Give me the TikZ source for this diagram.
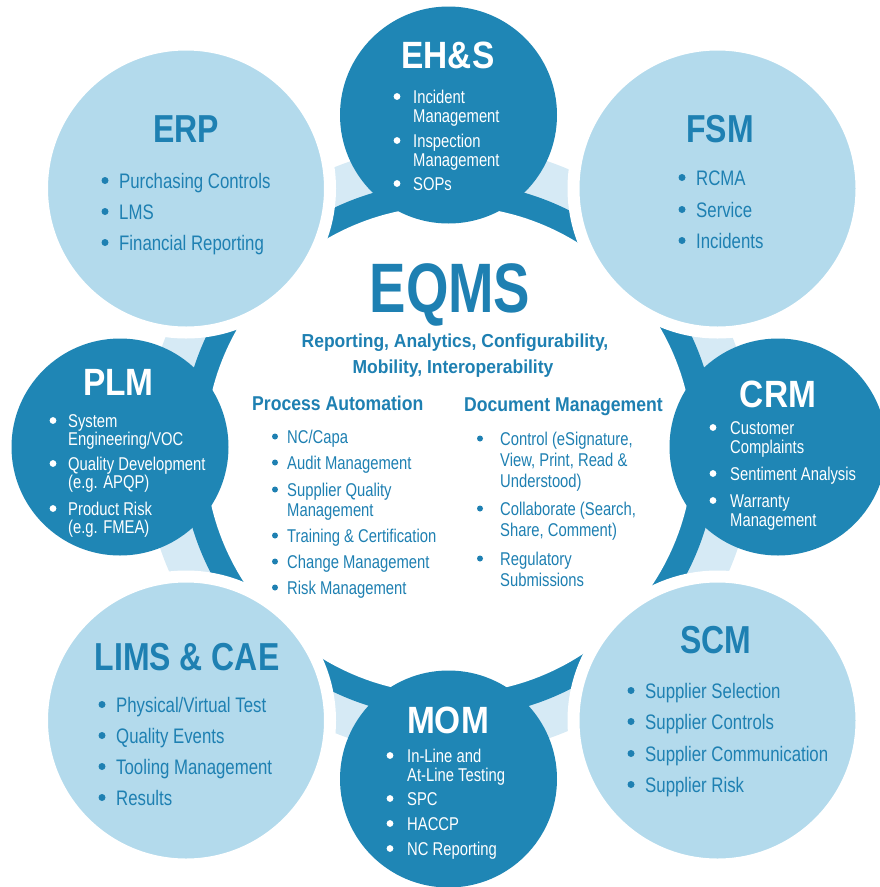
\documentclass[tikz,border=0pt]{standalone}
\usepackage{fontspec}
\setmainfont{Liberation Sans}
\newfontfamily\fR{Liberation Sans}[FakeStretch=0.80]
\newfontfamily\fB{Liberation Sans}[FakeStretch=0.88]
\newfontfamily\fS{Liberation Sans}[FakeStretch=0.93]
\newfontfamily\fT{Liberation Sans}[FakeStretch=0.82]
\newfontfamily\fE{Liberation Sans}[FakeStretch=0.78]
\definecolor{dk}{HTML}{1F86B5}
\definecolor{lt}{HTML}{B3DAEC}
\definecolor{pl}{HTML}{D6EAF5}
\definecolor{tx}{HTML}{1E80B2}
\begin{document}
\begin{tikzpicture}[x=1pt,y=-1pt,
 dkc/.style={circle,fill=dk,inner sep=0pt,minimum size=217pt},
 ltc/.style={circle,fill=lt,draw=white,line width=12pt,inner sep=0pt,minimum size=288pt},
 ttlL/.style={anchor=base,inner sep=0pt,text=tx,font=\fT\bfseries\fontsize{39}{39}\selectfont},
 ttlD/.style={anchor=base,inner sep=0pt,text=white,font=\fB\bfseries\fontsize{38}{38}\selectfont},
 txL/.style={anchor=base west,inner sep=0pt,text=tx,font=\fR\fontsize{21}{21}\selectfont},
 txD/.style={anchor=base west,inner sep=0pt,text=white,font=\fR\fontsize{18.5}{18.5}\selectfont},
 txC/.style={anchor=base west,inner sep=0pt,text=tx,font=\fR\fontsize{18.5}{18.5}\selectfont},
 hdC/.style={anchor=base west,inner sep=0pt,text=tx,font=\fB\bfseries\fontsize{20}{20}\selectfont},
 subC/.style={anchor=base,inner sep=0pt,text=tx,font=\fS\bfseries\fontsize{18.8}{18.8}\selectfont},
 dotL/.style={circle,fill=tx,inner sep=0pt,minimum size=7pt},
 dotD/.style={circle,fill=white,inner sep=0pt,minimum size=6.8pt},
 dotC/.style={circle,fill=tx,inner sep=0pt,minimum size=6pt},
]
\useasboundingbox (0,0) rectangle (879,887);
\fill[white] (0,0) rectangle (879,887);
% background rings
\fill[pl] (449,450) circle (305pt);
\fill[dk] (449,450) circle (268pt);
\fill[white] (449,450) circle (244pt);
% dark circles
\node[dkc] (ehs) at (448.5,115) {};
\node[dkc] (plm) at (120,447) {};
\node[dkc] (crm) at (778,447) {};
\node[dkc] (mom) at (448.5,779) {};
% light circles
\node[ltc] (erp) at (186,188.5) {};
\node[ltc] (fsm) at (717.5,188.5) {};
\node[ltc] (lims) at (186,720.5) {};
\node[ltc] (scm) at (717.5,720.5) {};

% ERP
\node[ttlL] (erpT) at (186,142) {ERP};
\node[dotL] (erpb1) at (105,180.5) {};
\node[txL] (erpt1) at (119,188) {Purchasing Controls};
\node[dotL] (erpb2) at (105,211.5) {};
\node[txL] (erpt2) at (119,219) {LMS};
\node[dotL] (erpb3) at (105,242.5) {};
\node[txL] (erpt3) at (119,250) {Financial Reporting};

% FSM
\node[ttlL] (fsmT) at (720,142) {FSM};
\node[dotL] (fsmb1) at (682,177.5) {};
\node[txL] (fsmt1) at (696,185) {RCMA};
\node[dotL] (fsmb2) at (682,209.5) {};
\node[txL] (fsmt2) at (696,217) {Service};
\node[dotL] (fsmb3) at (682,240.5) {};
\node[txL] (fsmt3) at (696,248) {Incidents};

% LIMS & CAE
\node[ttlL] (limsT) at (187,670) {LIMS \& CAE};
\node[dotL] (limsb1) at (102,704.5) {};
\node[txL] (limst1) at (116,712) {Physical/Virtual Test};
\node[dotL] (limsb2) at (102,735.5) {};
\node[txL] (limst2) at (116,743) {Quality Events};
\node[dotL] (limsb3) at (102,766.5) {};
\node[txL] (limst3) at (116,774) {Tooling Management};
\node[dotL] (limsb4) at (102,797.5) {};
\node[txL] (limst4) at (116,805) {Results};

% SCM
\node[ttlL] (scmT) at (716,653) {SCM};
\node[dotL] (scmb1) at (631,690.5) {};
\node[txL] (scmt1) at (645,698) {Supplier Selection};
\node[dotL] (scmb2) at (631,721.5) {};
\node[txL] (scmt2) at (645,729) {Supplier Controls};
\node[dotL] (scmb3) at (631,753.5) {};
\node[txL] (scmt3) at (645,761) {Supplier Communication};
\node[dotL] (scmb4) at (631,784.5) {};
\node[txL] (scmt4) at (645,792) {Supplier Risk};

% EH&S
\node[ttlD] (ehsT) at (448,68) {EH\&S};
\node[dotD] (ehsb1) at (397,96.5) {};
\node[txD] (ehst1) at (413,103) {Incident};
\node[txD] (ehst1b) at (413,122) {Management};
\node[dotD] (ehsb2) at (397,140.5) {};
\node[txD] (ehst2) at (413,147) {Inspection};
\node[txD] (ehst2b) at (413,166) {Management};
\node[dotD] (ehsb3) at (397,183.5) {};
\node[txD] (ehst3) at (413,190) {SOPs};

% PLM
\node[ttlD] (plmT) at (118.5,395) {PLM};
\node[dotD] (plmb1) at (53,420.5) {};
\node[txD] (plmt1) at (68,427) {System};
\node[txD] (plmt1b) at (68,445) {Engineering/VOC};
\node[dotD] (plmb2) at (53,463.5) {};
\node[txD] (plmt2) at (68,470) {Quality Development};
\node[txD] (plmt2b) at (68,488) {(e.g. APQP)};
\node[dotD] (plmb3) at (53,508.5) {};
\node[txD] (plmt3) at (68,515) {Product Risk};
\node[txD] (plmt3b) at (68,533) {(e.g. FMEA)};

% CRM
\node[ttlD] (crmT) at (778,407) {CRM};
\node[dotD] (crmb1) at (713,427.5) {};
\node[txD] (crmt1) at (730,434) {Customer};
\node[txD] (crmt1b) at (730,453) {Complaints};
\node[dotD] (crmb2) at (713,473.5) {};
\node[txD] (crmt2) at (730,480) {Sentiment Analysis};
\node[dotD] (crmb3) at (713,500.5) {};
\node[txD] (crmt3) at (730,507) {Warranty};
\node[txD] (crmt3b) at (730,526) {Management};

% MOM
\node[ttlD] (momT) at (448,733) {MOM};
\node[dotD] (momb1) at (390,755.5) {};
\node[txD] (momt1) at (407,762) {In-Line and};
\node[txD] (momt1b) at (407,781) {At-Line Testing};
\node[dotD] (momb2) at (390,798.5) {};
\node[txD] (momt2) at (407,805) {SPC};
\node[dotD] (momb3) at (390,823.5) {};
\node[txD] (momt3) at (407,830) {HACCP};
\node[dotD] (momb4) at (390,848.5) {};
\node[txD] (momt4) at (407,855) {NC Reporting};

% centre
\node[anchor=base,inner sep=0pt,text=tx,font=\fE\bfseries\fontsize{70}{70}\selectfont] (eqms) at (450,312) {EQMS};
\node[subC] (sub1) at (455,347) {Reporting, Analytics, Configurability,};
\node[subC] (sub2) at (453,373) {Mobility, Interoperability};
\node[hdC] (pa) at (252,410) {Process Automation};
\node[hdC] (dm) at (464,411) {Document Management};

\node[dotC] (pab1) at (275,436.5) {};
\node[txC] (pat1) at (287,443) {NC/Capa};
\node[dotC] (pab2) at (275,462.5) {};
\node[txC] (pat2) at (287,469) {Audit Management};
\node[dotC] (pab3) at (275,489.5) {};
\node[txC] (pat3) at (287,496) {Supplier Quality};
\node[txC] (pat3b) at (287,516) {Management};
\node[dotC] (pab4) at (275,535.5) {};
\node[txC] (pat4) at (287,542) {Training \& Certification};
\node[dotC] (pab5) at (275,561.5) {};
\node[txC] (pat5) at (287,568) {Change Management};
\node[dotC] (pab6) at (275,587.5) {};
\node[txC] (pat6) at (287,594) {Risk Management};

\node[dotC] (dmb1) at (480,438.5) {};
\node[txC] (dmt1) at (500,445) {Control (eSignature,};
\node[txC] (dmt1b) at (500,466) {View, Print, Read \&};
\node[txC] (dmt1c) at (500,487) {Understood)};
\node[dotC] (dmb2) at (480,508.5) {};
\node[txC] (dmt2) at (500,515) {Collaborate (Search,};
\node[txC] (dmt2b) at (500,536) {Share, Comment)};
\node[dotC] (dmb3) at (480,558.5) {};
\node[txC] (dmt3) at (500,565) {Regulatory};
\node[txC] (dmt3b) at (500,586) {Submissions};
\end{tikzpicture}
\end{document}
